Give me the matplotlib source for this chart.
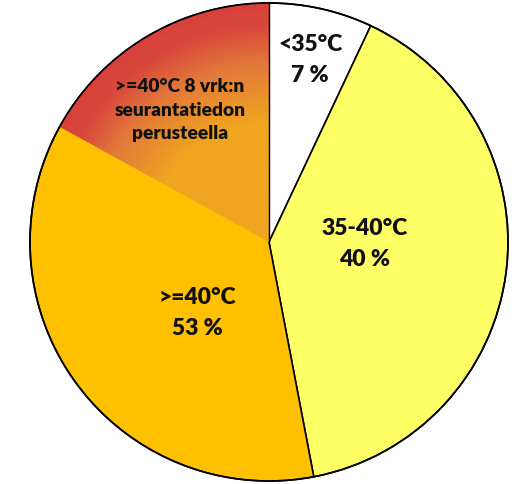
import numpy as np
import matplotlib
matplotlib.use("Agg")
import matplotlib.pyplot as plt
from matplotlib.patches import Wedge, Circle
from matplotlib.colors import LinearSegmentedColormap

# Shares of measurements by temperature class (%)
categories = ["<35°C", "35-40°C", ">=40°C"]
shares = [7, 40, 53]
colors = ["#FFFFFF", "#FFFF66", "#FFC000"]

# Part of the >=40°C class that is based on 8-day follow-up data (%)
sub_label = ">=40°C 8 vrk:n\nseurantatiedon\nperusteella"
sub_share = 17

W, H = 517, 485
fig = plt.figure(figsize=(W / 100, H / 100), dpi=100)
ax = fig.add_axes([0, 0, 1, 1])

cx, cy, R = 269, 242, 239

wedges, _ = ax.pie(shares, colors=colors, startangle=90, counterclock=False,
                   radius=R, center=(cx, cy), frame=True,
                   wedgeprops=dict(edgecolor="black", linewidth=1.2))
ax.set_xlim(0, W)
ax.set_ylim(0, H)
ax.set_aspect("equal")
ax.axis("off")

# Radial gradient sub-wedge inside the >=40°C slice, starting at 12 o'clock
theta1 = 90
theta2 = 90 + 360 * sub_share / 100
clip = Wedge((cx, cy), R, theta1, theta2, transform=ax.transData,
             facecolor="none", edgecolor="none")
ax.add_patch(clip)
n = 600
xs = np.linspace(cx - R, cx + R, n)
ys = np.linspace(cy - R, cy + R, n)
X, Y = np.meshgrid(xs, ys)
rr = np.hypot(X - cx, Y - cy) / R
cmap = LinearSegmentedColormap.from_list(
    "heat", [(0.0, "#EFA520"), (0.5, "#EFA520"), (0.75, "#E2783A"), (0.9, "#D9493C"), (1.0, "#D8403A")])
img = ax.imshow(rr, extent=(cx - R, cx + R, cy - R, cy + R), origin="lower",
                cmap=cmap, vmin=0, vmax=1, zorder=2, interpolation="bilinear")
img.set_clip_path(clip)

# Outline redrawn over the gradient
ax.add_patch(Circle((cx, cy), R, facecolor="none", edgecolor="black",
                    linewidth=1.2, zorder=3))
ax.plot([cx, cx], [cy, cy + R], color="black", linewidth=1.0, zorder=3)

font = dict(family=["Lato", "DejaVu Sans"], fontweight="heavy", color="#111111",
            ha="center", va="center", zorder=4)
labels = [f"{c}\n{v} %" for c, v in zip(categories, shares)]
ax.text(310, H - 60, labels[0], fontsize=16.5, linespacing=1.55, **font)
ax.text(365, H - 244, labels[1], fontsize=16.5, linespacing=1.55, **font)
ax.text(197, H - 313, labels[2], fontsize=16.5, linespacing=1.55, **font)
ax.text(180, H - 110, sub_label, fontsize=13.8, linespacing=1.5, **font)

fig.savefig("out.png", dpi=100)
